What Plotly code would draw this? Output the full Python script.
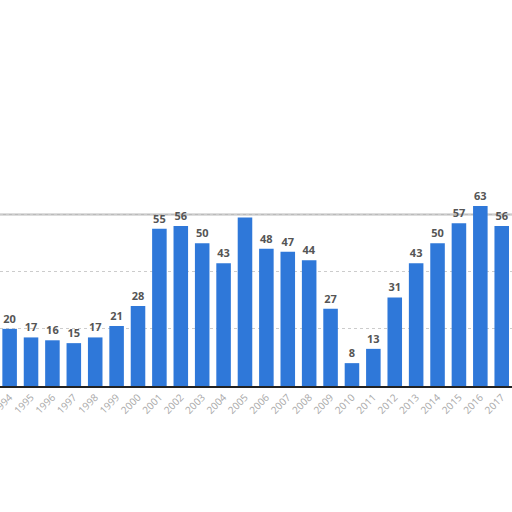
import plotly.graph_objects as go

years = [str(y) for y in range(1994, 2018)]
values = [20, 17, 16, 15, 17, 21, 28, 55, 56, 50, 43, 59, 48, 47, 44, 27, 8, 13, 31, 43, 50, 57, 63, 56]
labels = ["<b>%d</b>" % v for v in values]
labels[11] = ""

fig = go.Figure()
fig.add_trace(go.Bar(
    x=years, y=values, text=labels, textposition="outside",
    marker=dict(color="#2f78d9", line=dict(width=0)),
    textfont=dict(family="Open Sans, Arial", size=11, color="#555555"),
    cliponaxis=False,
))
fig.update_layout(
    width=512, height=512,
    margin=dict(l=0, r=0, t=186, b=126, autoexpand=False),
    paper_bgcolor="white", plot_bgcolor="white",
    bargap=0.32, showlegend=False,
    font=dict(family="Open Sans, Arial"),
    uniformtext=dict(minsize=10, mode="show"),
)
fig.update_xaxes(
    tickangle=-45, tickfont=dict(size=10, color="#a8a8a8"),
    showline=True, linecolor="#222222", linewidth=1.5,
    showgrid=False, ticks="", automargin=False,
    range=[-0.45, 23.48],
)
fig.update_yaxes(
    range=[0, 70], tickvals=[20, 40, 60], showticklabels=False,
    showgrid=True, gridcolor="#cccccc", griddash="dot", gridwidth=1,
    zeroline=False, automargin=False,
)
fig.add_shape(type="line", xref="paper", x0=0, x1=1, yref="y", y0=60, y1=60,
              line=dict(color="#bbbbbb", width=2), layer="below")
fig.write_html("out.html", config={"displayModeBar": False},
               post_script="document.body.style.margin='0';")
